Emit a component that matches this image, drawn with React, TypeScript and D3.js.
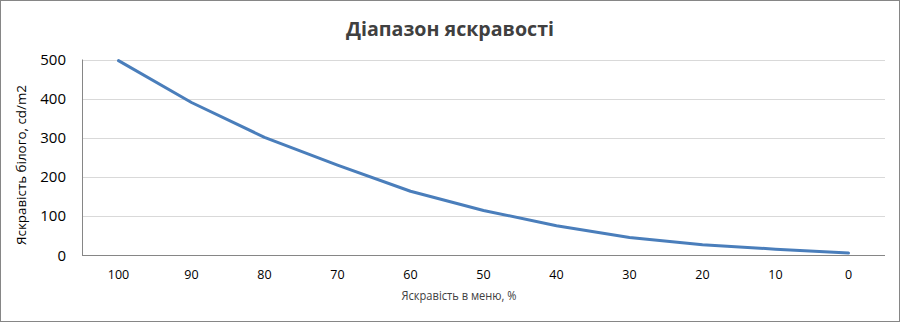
import React from "react";
import * as d3 from "d3";

const categories = ["100", "90", "80", "70", "60", "50", "40", "30", "20", "10", "0"];
const brightness = [497, 390, 301, 230, 163, 114, 75, 45, 26, 15, 5];
const yTicks = [0, 100, 200, 300, 400, 500];

const W = 900;
const H = 322;
const left = 82;
const right = 885;
const top = 59.5;
const bottom = 255;

export default function App() {
  const x = d3.scaleBand<string>().domain(categories).range([left, right]);
  const y = d3.scaleLinear().domain([0, 500]).range([bottom, top]);
  const line = d3
    .line<number>()
    .x((_, i) => (x(categories[i]) as number) + x.bandwidth() / 2)
    .y((d) => y(d));
  const font = "'Open Sans', 'DejaVu Sans', sans-serif";
  return (
    <svg
      width={W}
      height={H}
      style={{ position: "absolute", left: 0, top: 0, background: "#fff" }}
      fontFamily={font}
    >
      <rect x={0.5} y={0.5} width={W - 1} height={H - 1} fill="#fff" stroke="#868686" />
      <text
        x={450}
        y={36}
        textAnchor="middle"
        fontSize={19}
        fontWeight="bold"
        fill="#404040"
        textLength={208}
        lengthAdjust="spacingAndGlyphs"
      >
        Діапазон яскравості
      </text>
      {yTicks.map((t) => (
        <line key={"g" + t} x1={left} x2={right} y1={Math.round(y(t)) + 0.5} y2={Math.round(y(t)) + 0.5} stroke="#d9d9d9" />
      ))}
      <line x1={left + 0.5} x2={left + 0.5} y1={top} y2={bottom} stroke="#868686" />
      <line x1={left} x2={right} y1={bottom + 0.5} y2={bottom + 0.5} stroke="#868686" />
      {yTicks.map((t) => (
        <text key={"y" + t} x={66} y={y(t) + 5.5} textAnchor="end" fontSize={15} fill="#000">
          {t}
        </text>
      ))}
      {categories.map((c) => (
        <text
          key={"x" + c}
          x={(x(c) as number) + x.bandwidth() / 2}
          y={279}
          textAnchor="middle"
          fontSize={12.5}
          fill="#000"
        >
          {c}
        </text>
      ))}
      <path d={line(brightness) || ""} fill="none" stroke="#4a7ebb" strokeWidth={3} strokeLinejoin="round" strokeLinecap="round" />
      <text
        x={459}
        y={300}
        textAnchor="middle"
        fontSize={12}
        fill="#404040"
        textLength={115}
        lengthAdjust="spacingAndGlyphs"
      >
        Яскравість в меню, %
      </text>
      <text
        transform="translate(26,165) rotate(-90)"
        textAnchor="middle"
        fontSize={12}
        fill="#000"
        textLength={160}
        lengthAdjust="spacingAndGlyphs"
      >
        Яскравість білого, cd/m2
      </text>
    </svg>
  );
}
